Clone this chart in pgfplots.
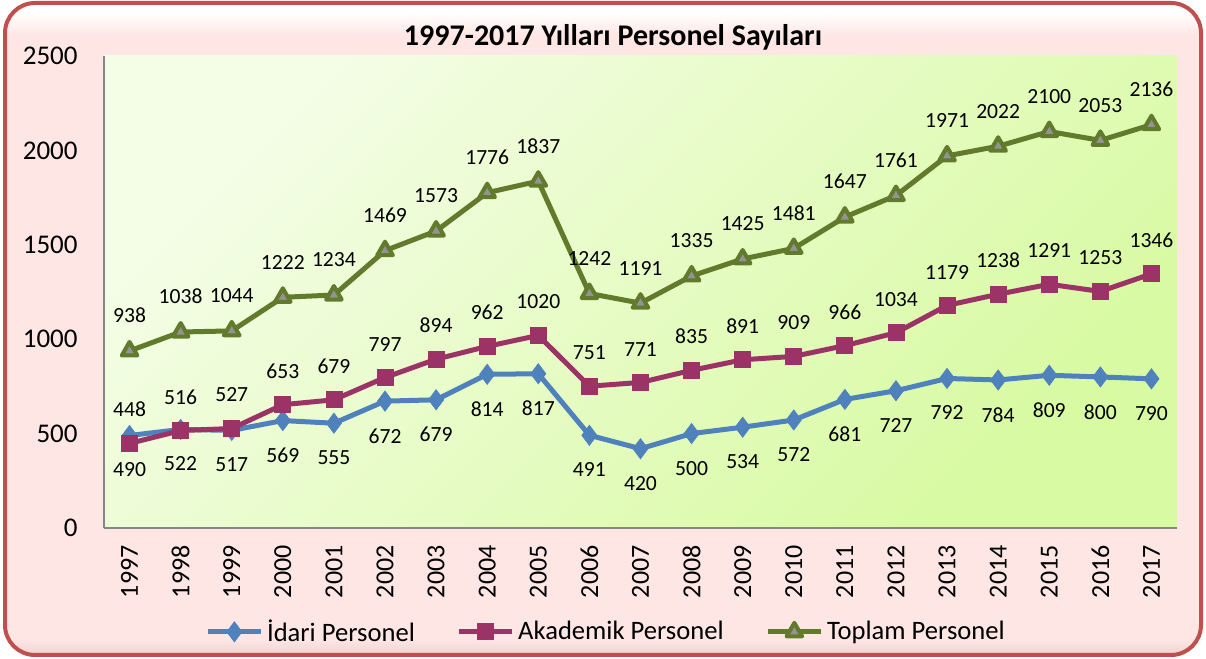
\documentclass[border=0pt]{standalone}
\usepackage{fontspec}
\setmainfont{Carlito}
\usepackage{pgfplots}
\pgfplotsset{compat=1.18}
\definecolor{idari}{HTML}{4F81BD}
\definecolor{akad}{HTML}{9B3366}
\definecolor{toplam}{HTML}{627A2B}
\definecolor{bord}{HTML}{C0504D}
\definecolor{bgpink}{HTML}{FDE6E4}
\definecolor{bgdark}{HTML}{EFD3D1}
\definecolor{plotA}{HTML}{F4FDE6}
\definecolor{plotB}{HTML}{D8FAA2}
\definecolor{axgray}{HTML}{868686}
\pgfdeclareverticalshading{outershade}{100bp}{color(0bp)=(bgdark); color(25bp)=(bgdark); color(26.2bp)=(bgpink); color(72.5bp)=(bgpink); color(74.2bp)=(white); color(100bp)=(white)}

\pgfplotstableread{
year idari akad toplam
1997 490 448 938
1998 522 516 1038
1999 517 527 1044
2000 569 653 1222
2001 555 679 1234
2002 672 797 1469
2003 679 894 1573
2004 814 962 1776
2005 817 1020 1837
2006 491 751 1242
2007 420 771 1191
2008 500 835 1335
2009 534 891 1425
2010 572 909 1481
2011 681 966 1647
2012 727 1034 1761
2013 792 1179 1971
2014 784 1238 2022
2015 809 1291 2100
2016 800 1253 2053
2017 790 1346 2136
}\datatable

\begin{document}
\begin{tikzpicture}
\path[use as bounding box] (0,0) rectangle (603pt,329.5pt);
\fill[shading=outershade, rounded corners=15pt] (2.5pt,2pt) rectangle (600.5pt,328pt);
\draw[bord, line width=2pt, rounded corners=15pt] (2.5pt,2pt) rectangle (600.5pt,328pt);
\node[font=\bfseries\fontsize{15}{15}\selectfont, inner sep=0pt] at (306.5pt,311pt) {1997-2017 Yılları Personel Sayıları};
\begin{axis}[
  at={(52pt,65.5pt)}, anchor=south west,
  width=536.5pt, height=236pt, scale only axis,
  xmin=1996.5, xmax=2017.5, ymin=0, ymax=2500,
  xtick={1997,1998,...,2017}, ytick={0,500,...,2500},
  axis x line*=bottom, axis y line*=left,
  axis line style={axgray, line width=0.8pt, -},
  major tick length=0pt,
  clip=false,
  /pgf/number format/.cd, 1000 sep={}, assume math mode=true, /pgfplots/.cd,
  axis background/.style={top color=plotA, bottom color=plotB, shading angle=45},
  xticklabel style={rotate=90, anchor=east, inner sep=0pt, font=\fontsize{13}{13}\selectfont},
  yticklabel style={anchor=east, inner sep=0pt, font=\fontsize{13.5}{13.5}\selectfont},
  xticklabel shift=8.5pt, yticklabel shift=13pt,
  nodes near coords,
  every node near coord/.append style={font=\fontsize{10.8}{10.8}\selectfont, inner sep=0pt, black},
  legend columns=3,
  legend style={draw=none, fill=none, at={(0.469,-0.220)}, anchor=center,
    font=\fontsize{13.3}{13.3}\selectfont,
    /tikz/every even column/.append style={column sep=19pt}},
  legend image code/.code={\draw[mark repeat=2,mark phase=2] plot coordinates {(0cm,0cm) (0.46cm,0cm) (0.92cm,0cm)};},
]
\addplot[idari, line width=2.5pt, mark=diamond*, mark size=5pt, mark options={solid, line width=0.4pt},
  every node near coord/.append style={anchor=north, yshift=-13.5pt}]
  table[x=year, y=idari] {\datatable};
\addlegendentry{İdari Personel}
\addplot[akad, line width=2.5pt, mark=square*, mark size=4pt, mark options={solid, line width=0.4pt},
  every node near coord/.append style={anchor=south, yshift=13pt}]
  table[x=year, y=akad] {\datatable};
\addlegendentry{Akademik Personel}
\addplot[toplam, line width=2.5pt, mark=triangle*, mark size=4.5pt,
  mark options={solid, fill=gray!85, draw=toplam, line width=2pt, line join=round},
  every node near coord/.append style={anchor=south, yshift=13pt}]
  table[x=year, y=toplam] {\datatable};
\addlegendentry{Toplam Personel}
\end{axis}
\end{tikzpicture}
\end{document}
